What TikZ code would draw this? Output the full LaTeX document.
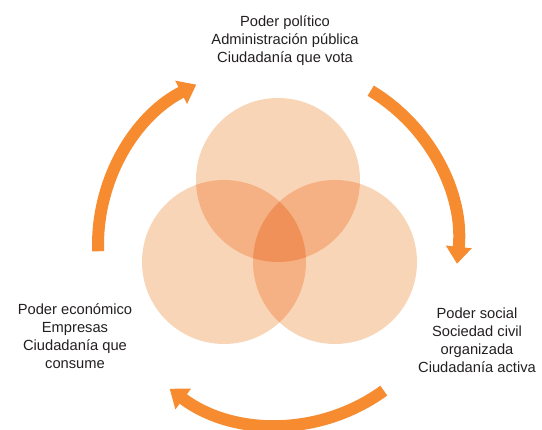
\documentclass[tikz,border=0pt]{standalone}
\usepackage{fontspec}
\setmainfont{Liberation Sans}
\usetikzlibrary{arrows.meta}
\definecolor{one}{HTML}{F9D5B7}
\definecolor{two}{HTML}{F5B183}
\definecolor{three}{HTML}{F0915A}
\definecolor{arr}{HTML}{F68B2F}
\definecolor{txt}{HTML}{231F20}
\begin{document}
\begin{tikzpicture}[x=1pt,y=1pt,
  cyclearrow/.style={draw=arr,line width=12pt,-{Triangle[width=25pt,length=17pt]}},
  lbl/.style={align=center,text=txt,font=\fontsize{14.7}{18}\selectfont,inner sep=0pt}]
\useasboundingbox (0,0) rectangle (542,430);
\coordinate (ctr) at (278,185);
\coordinate (ct) at (278,250);
\coordinate (cl) at (224,168);
\coordinate (cr) at (335,168);
\def\R{82}
% single circles
\fill[one] (ct) circle (\R);
\fill[one] (cl) circle (\R);
\fill[one] (cr) circle (\R);
% pairwise overlaps
\begin{scope}\clip (ct) circle (\R); \fill[two] (cl) circle (\R); \fill[two] (cr) circle (\R);\end{scope}
\begin{scope}\clip (cl) circle (\R); \fill[two] (cr) circle (\R);\end{scope}
% triple overlap
\begin{scope}\clip (ct) circle (\R); \clip (cl) circle (\R); \fill[three] (cr) circle (\R);\end{scope}
% arrows
\draw[cyclearrow] ([shift={(182:180)}]ctr) arc[start angle=182,end angle=117,radius=180];
\draw[cyclearrow] ([shift={(59:180)}]ctr) arc[start angle=59,end angle=-6,radius=180];
\draw[cyclearrow] ([shift={(-54:180)}]ctr) arc[start angle=-54,end angle=-127,radius=180];
% labels
\node[lbl] (top) at (285,389) {Poder político\\Administración pública\\Ciudadanía que vota};
\node[lbl] (left) at (75,94) {Poder económico\\Empresas\\Ciudadanía que\\consume};
\node[lbl] (right) at (477,90) {Poder social\\Sociedad civil\\organizada\\Ciudadanía activa};
\end{tikzpicture}
\end{document}
